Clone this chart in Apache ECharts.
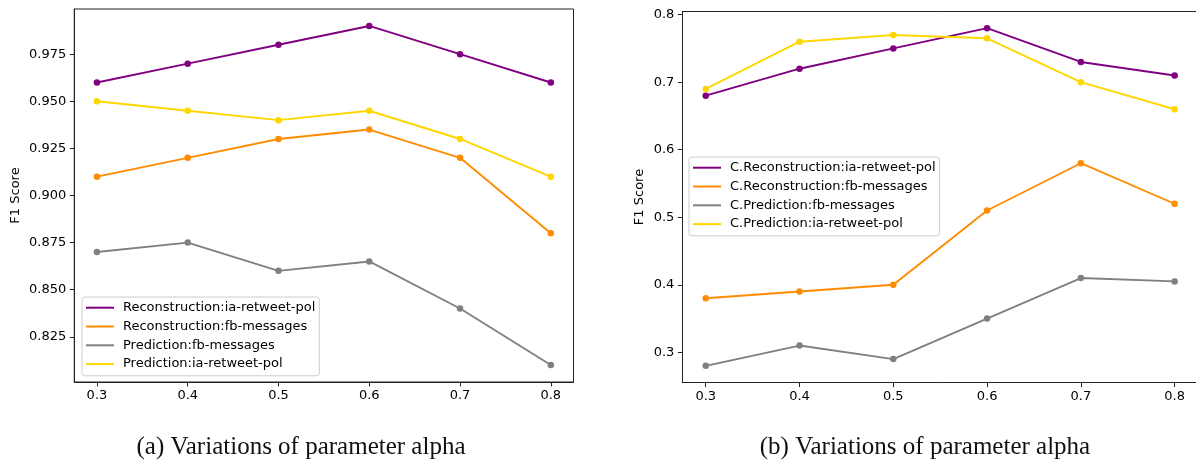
<!DOCTYPE html>
<html>
<head>
<meta charset="utf-8">
<script src="https://cdn.jsdelivr.net/npm/echarts@6/dist/echarts.min.js"></script>
<style>html,body{margin:0;padding:0;background:#fff}#c{width:1196px;height:461px}</style>
</head>
<body>
<div id="c"></div>
<script>
// ---- data ----
var alphas = [0.3, 0.4, 0.5, 0.6, 0.7, 0.8];
var xTicks = [0.3, 0.4, 0.5, 0.6, 0.7, 0.8];

// (a)
var namesA = ['Reconstruction:ia-retweet-pol', 'Reconstruction:fb-messages', 'Prediction:fb-messages', 'Prediction:ia-retweet-pol'];
var reconIaA = [0.96, 0.97, 0.98, 0.99, 0.975, 0.96];
var reconFbA = [0.91, 0.92, 0.93, 0.935, 0.92, 0.88];
var predFbA  = [0.87, 0.875, 0.86, 0.865, 0.84, 0.81];
var predIaA  = [0.95, 0.945, 0.94, 0.945, 0.93, 0.91];
var yTicksA = [0.825, 0.85, 0.875, 0.9, 0.925, 0.95, 0.975];

// (b)
var namesB = ['C.Reconstruction:ia-retweet-pol', 'C.Reconstruction:fb-messages', 'C.Prediction:fb-messages', 'C.Prediction:ia-retweet-pol'];
var reconIaB = [0.68, 0.72, 0.75, 0.78, 0.73, 0.71];
var reconFbB = [0.38, 0.39, 0.40, 0.51, 0.58, 0.52];
var predFbB  = [0.28, 0.31, 0.29, 0.35, 0.41, 0.405];
var predIaB  = [0.69, 0.76, 0.77, 0.765, 0.70, 0.66];
var yTicksB = [0.3, 0.4, 0.5, 0.6, 0.7, 0.8];

var captions = ['(a) Variations of parameter alpha', '(b) Variations of parameter alpha'];
var colors = ['#800080', '#ff8c00', '#808080', '#ffd700'];

// ---- helpers ----
function pts(ys) { return alphas.map(function (a, i) { return [a, ys[i]]; }); }
function pad(arr) {
  var mn = Math.min.apply(null, arr), mx = Math.max.apply(null, arr), r = mx - mn;
  return [mn - 0.05 * r, mx + 0.05 * r];
}
var axisCol = '#222';
var font = 'DejaVu Sans';
var fs = 13;
var xr = pad(alphas);
// panel (b) is cut off at the right edge of the picture: its x range ends before the padded max
var xrB = [xr[0], 0.8228];
var yrA = pad([].concat(reconIaA, reconFbA, predFbA, predIaA));
var yrB = pad([].concat(reconIaB, reconFbB, predFbB, predIaB));

function xAxis(gi, range) {
  return {
    type: 'value', gridIndex: gi, min: range[0], max: range[1],
    splitLine: {show: false},
    axisLine: {show: true, onZero: false, lineStyle: {color: axisCol, width: 1}},
    axisTick: {show: true, length: 4.4, inside: false, lineStyle: {color: axisCol}, customValues: xTicks},
    axisLabel: {customValues: xTicks, margin: 7, color: '#000', fontFamily: font, fontSize: fs,
      formatter: function (v) { return v.toFixed(1); }}
  };
}
function yAxis(gi, yr, ticks, dec, gap) {
  return {
    type: 'value', gridIndex: gi, min: yr[0], max: yr[1],
    name: 'F1 Score', nameLocation: 'middle', nameGap: gap,
    nameTextStyle: {color: '#000', fontFamily: font, fontSize: fs},
    splitLine: {show: false},
    axisLine: {show: true, onZero: false, lineStyle: {color: axisCol, width: 1}},
    axisTick: {show: true, length: 4.4, lineStyle: {color: axisCol}, customValues: ticks},
    axisLabel: {customValues: ticks, margin: 8, color: '#000', fontFamily: font, fontSize: fs,
      formatter: function (v) { return v.toFixed(dec); }}
  };
}
function line(name, ys, ci, idx) {
  return {
    type: 'line', name: name, data: pts(ys), xAxisIndex: idx, yAxisIndex: idx,
    symbol: 'circle', symbolSize: 6.5, showSymbol: true,
    lineStyle: {color: colors[ci], width: 1.9},
    itemStyle: {color: colors[ci]},
    animation: false, z: 3
  };
}
function legend(names, left, top) {
  return {
    data: names, orient: 'vertical', left: left, top: top,
    icon: 'rect', itemWidth: 28, itemHeight: 2, itemGap: 4.8,
    padding: [3.7, 4, 4.7, 4],
    backgroundColor: 'rgba(255,255,255,0.8)', borderColor: '#cccccc', borderWidth: 1, borderRadius: 3,
    textStyle: {color: '#000', fontFamily: font, fontSize: fs, lineHeight: 14, padding: [0, 0, 0, 4]}
  };
}

var topBorderB = {
  type: 'value', gridIndex: 1, position: 'top', min: xrB[0], max: xrB[1],
  axisLine: {show: true, onZero: false, lineStyle: {color: axisCol, width: 1}},
  axisTick: {show: false}, axisLabel: {show: false}, splitLine: {show: false}
};

var chart = echarts.init(document.getElementById('c'), null, {renderer: 'canvas'});
chart.setOption({
  animation: false,
  backgroundColor: '#fff',
  grid: [
    {left: 74.25, width: 573.5 - 74.25, top: 9, height: 382 - 9, show: true, borderColor: axisCol, borderWidth: 1, backgroundColor: 'transparent'},
    {left: 682.3, right: 0, top: 11.3, height: 382.7 - 11.3, show: false}
  ],
  xAxis: [xAxis(0, xr), xAxis(1, xrB), topBorderB],
  yAxis: [yAxis(0, yrA, yTicksA, 3, 52), yAxis(1, yrB, yTicksB, 1, 36)],
  legend: [legend(namesA, 82, 297), legend(namesB, 689, 157)],
  series: [
    line(namesA[0], reconIaA, 0, 0),
    line(namesA[1], reconFbA, 1, 0),
    line(namesA[2], predFbA, 2, 0),
    line(namesA[3], predIaA, 3, 0),
    line(namesB[0], reconIaB, 0, 1),
    line(namesB[1], reconFbB, 1, 1),
    line(namesB[2], predFbB, 2, 1),
    line(namesB[3], predIaB, 3, 1)
  ],
  graphic: [
    {type: 'text', style: {text: captions[0], x: 301, y: 447, align: 'center', verticalAlign: 'middle', font: '25px "Liberation Serif"', fill: '#111'}},
    {type: 'text', style: {text: captions[1], x: 925, y: 447, align: 'center', verticalAlign: 'middle', font: '25px "Liberation Serif"', fill: '#111'}}
  ]
});
</script>
</body>
</html>
